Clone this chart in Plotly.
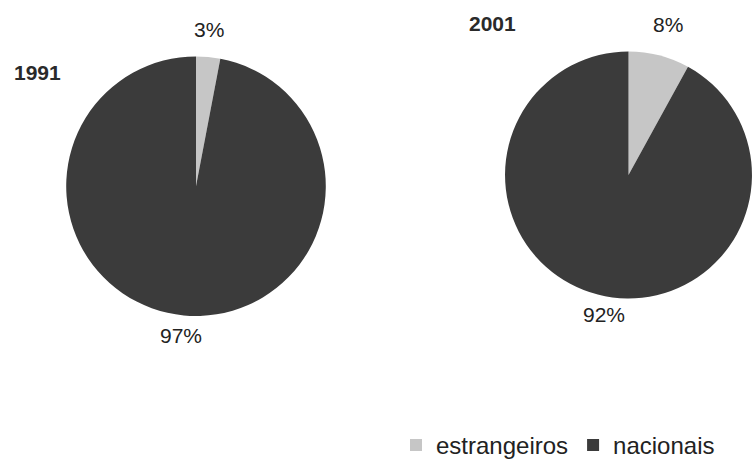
import plotly.graph_objects as go

categories = ["estrangeiros", "nacionais"]
years = ["1991", "2001"]
values_1991 = [3, 97]
values_2001 = [8, 92]
colors = ["#c6c6c6", "#3b3b3b"]

W, H = 753, 468
FONT = "Liberation Sans, Arial, sans-serif"
fig = go.Figure()

fig.add_trace(go.Pie(
    labels=categories, values=values_1991, sort=False, direction="clockwise", rotation=0,
    marker=dict(colors=colors, line=dict(width=0)), textinfo="none", hoverinfo="label+percent",
    domain=dict(x=[63 / W, 329 / W], y=[1 - 325 / H, 1 - 58 / H]), showlegend=True,
))
fig.add_trace(go.Pie(
    labels=categories, values=values_2001, sort=False, direction="clockwise", rotation=0,
    marker=dict(colors=colors, line=dict(width=0)), textinfo="none", hoverinfo="label+percent",
    domain=dict(x=[504 / W, 1.0], y=[1 - 307 / H, 1 - 53 / H]), showlegend=False,
))

lab_font = dict(family=FONT, size=21, color="#222222")
title_font = dict(family=FONT, size=21, color="#2a2a2a")
ann = [
    dict(text=f"{values_1991[0]}%", x=209 / W, y=1 - 30 / H),
    dict(text=f"{values_1991[1]}%", x=181 / W, y=1 - 345 / H),
    dict(text=f"{values_2001[0]}%", x=668 / W, y=1 - 25 / H),
    dict(text=f"{values_2001[1]}%", x=604 / W, y=1 - 323 / H),
]
for a in ann:
    fig.add_annotation(xref="paper", yref="paper", showarrow=False, xanchor="center", yanchor="middle",
                       font=lab_font, **a)
fig.add_annotation(text=f"<b>{years[0]}</b>", x=37 / W, y=1 - 75 / H, xref="paper", yref="paper",
                   showarrow=False, xanchor="center", yanchor="middle", font=title_font)
fig.add_annotation(text=f"<b>{years[1]}</b>", x=492 / W, y=1 - 24 / H, xref="paper", yref="paper",
                   showarrow=False, xanchor="center", yanchor="middle", font=title_font)

fig.update_layout(
    width=W, height=H, margin=dict(l=0, r=0, t=0, b=0),
    paper_bgcolor="white", plot_bgcolor="white",
    legend=dict(orientation="h", x=396 / W, y=1 - 458 / H, xanchor="left", yanchor="middle",
                font=dict(family=FONT, size=24, color="#222222"),
                itemwidth=30, tracegroupgap=0, bgcolor="rgba(0,0,0,0)"),
)
fig.write_html("out.html", config={"displayModeBar": False},
               post_script="document.body.style.margin='0';document.body.style.overflow='hidden';")
